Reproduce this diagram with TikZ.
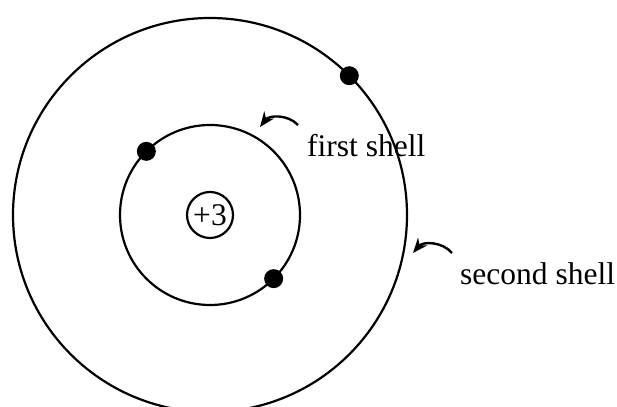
\documentclass[tikz,border=0pt]{standalone}
\usepackage{fontspec}
\setmainfont{Liberation Serif}
\usepackage{xcolor}
\usepackage{tikz}
\usetikzlibrary{calc,arrows.meta}

\tikzset{
	shell/.style={line width=2.2pt},
	electron/.style={circle, fill=black, inner sep=0pt, minimum size=19pt},
	nucleus/.style={circle, draw, line width=2.2pt, inner sep=1pt, minimum size=46pt},
	shelllabel/.style={anchor=base west, inner sep=0pt},
	pointer/.style={line width=2.4pt, -{Stealth[length=15pt,width=12pt]}}
}

\begin{document}
\begin{tikzpicture}[x=1pt, y=1pt, font=\fontsize{31.5}{38}\selectfont]
			\useasboundingbox (0,0) rectangle (617,406);
			\node[nucleus](nucleus) at (210,191) {+3};
			\draw[shell] (nucleus.center) circle (90);
			\draw[shell] (nucleus.center) circle (197);
			\node[electron](e1) at ($(nucleus.center)+(45:197)$) {};
			\node[electron](e2) at ($(nucleus.center)+(135:90)$) {};
			\node[electron](e3) at ($(nucleus.center)+(-45:90)$) {};
			\node[shelllabel](first) at (307,249) {first shell};
			\node[shelllabel](second) at (460,121) {second shell};
			\coordinate(firsttail) at (298,281);
			\coordinate(firsttip) at (260,279);
			\coordinate(secondtail) at (452,153);
			\coordinate(secondtip) at (413,153);
			\draw[pointer] (firsttail) to[bend right=50] (firsttip);
			\draw[pointer] (secondtail) to[bend right=50] (secondtip);
		\end{tikzpicture}
\end{document}
